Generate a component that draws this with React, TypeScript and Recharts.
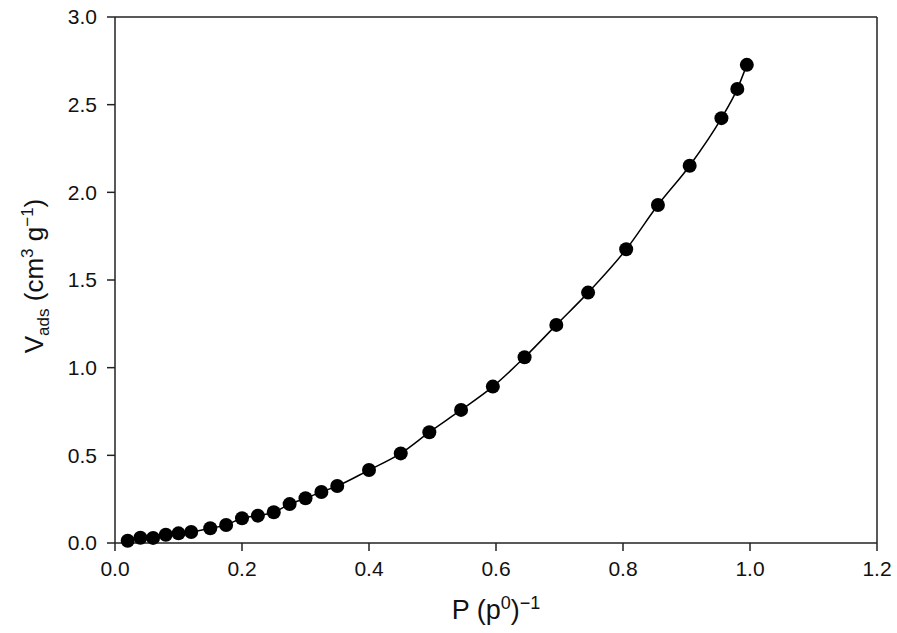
import React from 'react';
import { LineChart, Line, XAxis, YAxis, ReferenceLine, Label } from 'recharts';

// relative pressure P/p0 and adsorbed volume (cm3 g-1)
const pressure = [
  0.02, 0.04, 0.06, 0.08, 0.1, 0.12, 0.15, 0.175, 0.2, 0.225, 0.25, 0.275, 0.3, 0.325, 0.35,
  0.4, 0.45, 0.495, 0.545, 0.595, 0.645, 0.695, 0.745, 0.805, 0.855, 0.905, 0.955, 0.98, 0.995,
];
const vAds = [
  0.013, 0.03, 0.029, 0.047, 0.055, 0.063, 0.084, 0.103, 0.141, 0.156, 0.175, 0.222, 0.255, 0.291, 0.325,
  0.416, 0.511, 0.632, 0.759, 0.892, 1.059, 1.244, 1.428, 1.675, 1.928, 2.152, 2.423, 2.59, 2.727,
];
const xTicks = [0, 0.2, 0.4, 0.6, 0.8, 1.0, 1.2];
const yTicks = [0, 0.5, 1.0, 1.5, 2.0, 2.5, 3.0];

const data = pressure.map((p, i) => ({ p, v: vAds[i] }));

const FONT = 'Liberation Sans, Arial, sans-serif';
const AXIS = '#222';
const TXT = '#111';

const XTitle = (props: any) => {
  const { x, y, width } = props.viewBox;
  return (
    <text x={x + width / 2} y={y + 76} textAnchor="middle" fontFamily={FONT} fontSize={27} fill={TXT}>
      P (p<tspan dy={-10} fontSize={18}>0</tspan>
      <tspan dy={10}>)</tspan>
      <tspan dy={-10} fontSize={18}>−1</tspan>
    </text>
  );
};

const YTitle = () => {
  // sits left of the y tick labels, centred a little above the plot middle
  const cx = 43;
  const cy = 276;
  return (
    <text
      x={cx}
      y={cy}
      transform={`rotate(-90, ${cx}, ${cy})`}
      textAnchor="middle"
      fontFamily={FONT}
      fontSize={26}
      fill={TXT}
    >
      V<tspan dy={6} fontSize={17}>ads</tspan>
      <tspan dy={-6}> (cm</tspan>
      <tspan dy={-10} fontSize={17}>3</tspan>
      <tspan dy={10}> g</tspan>
      <tspan dy={-10} fontSize={17}>−1</tspan>
      <tspan dy={10}>)</tspan>
    </text>
  );
};

export default function App() {
  return (
    <div style={{ position: 'absolute', left: 0, top: 0, background: '#fff' }}>
      <LineChart width={897} height={633} data={data} margin={{ top: 17, right: 20, bottom: 0, left: 55 }}>
        <XAxis
          dataKey="p"
          type="number"
          domain={[0, 1.2]}
          ticks={xTicks}
          tickFormatter={(t: number) => t.toFixed(1)}
          stroke={AXIS}
          strokeWidth={1.5}
          tick={{ fill: TXT, fontSize: 21, fontFamily: FONT }}
          tickSize={8}
          tickMargin={10}
          height={90}
        >
          <Label content={<XTitle />} />
        </XAxis>
        <YAxis
          dataKey="v"
          type="number"
          domain={[0, 3]}
          ticks={yTicks}
          tickFormatter={(t: number) => t.toFixed(1)}
          stroke={AXIS}
          strokeWidth={1.5}
          tick={{ fill: TXT, fontSize: 21, fontFamily: FONT }}
          tickSize={8}
          tickMargin={10}
          width={60}
        >
          <Label content={<YTitle />} />
        </YAxis>
        <ReferenceLine y={3} stroke={AXIS} strokeWidth={1.5} />
        <ReferenceLine x={1.2} stroke={AXIS} strokeWidth={1.5} />
        <Line
          type="monotone"
          dataKey="v"
          stroke="#000"
          strokeWidth={1.5}
          dot={{ r: 7, fill: '#000', stroke: 'none' }}
          activeDot={false}
          isAnimationActive={false}
        />
      </LineChart>
    </div>
  );
}
